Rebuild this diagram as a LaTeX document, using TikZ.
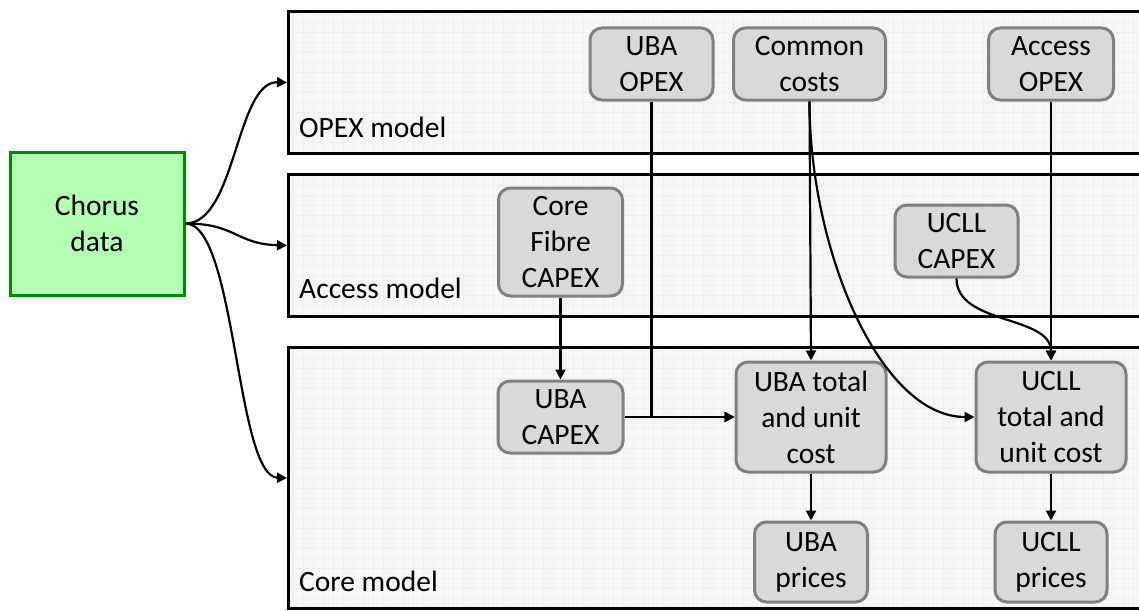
\documentclass[tikz,border=0pt]{standalone}
\usepackage{fontspec}
\setmainfont{Carlito}
\usetikzlibrary{arrows.meta}
\definecolor{chorusfill}{HTML}{B3FFB3}
\definecolor{chorusdraw}{HTML}{008A00}
\definecolor{boxfill}{HTML}{D9D9D9}
\definecolor{boxdraw}{HTML}{808080}
\definecolor{modelfill}{HTML}{F6F6F6}
\definecolor{gridcol}{HTML}{EEEEEE}
\begin{document}
\begin{tikzpicture}[x=1pt,y=-1pt,
  font=\fontsize{29.5}{36}\selectfont,
  modelbox/.style={draw=black, line width=3pt, fill=modelfill, anchor=north west, inner sep=0pt,
    path picture={\draw[gridcol, line width=0.4pt] (path picture bounding box.south west) grid[step=10pt] (path picture bounding box.north east);}},
  modellabel/.style={anchor=base west, inner sep=0pt},
  ibox/.style={draw=boxdraw, fill=boxfill, line width=3pt, rounded corners=12pt, align=center, inner sep=0pt},
  chorusbox/.style={draw=chorusdraw, fill=chorusfill, line width=3pt, align=center, inner sep=0pt},
  conn/.style={draw=black, line width=2.2pt, -{Triangle[length=10pt,width=10pt]}}
]
\useasboundingbox (0,0) rectangle (1139,610);

% model boxes
\node[modelbox, minimum width=870, minimum height=142] (opex) at (287,10) {};
\node[modelbox, minimum width=870, minimum height=142] (access) at (287,173) {};
\node[modelbox, minimum width=870, minimum height=261] (core) at (287,346) {};

\node[modellabel] (opexlab) at (299,137) {OPEX model};
\node[modellabel] (accesslab) at (299,298) {Access model};
\node[modellabel] (corelab) at (299,591) {Core model};

% source
\node[chorusbox, minimum width=174, minimum height=143] (chorus) at (97,223.5) {Chorus\\data};

% inner boxes
\node[ibox, minimum width=123, minimum height=72] (ubaopex) at (651.5,64) {UBA\\OPEX};
\node[ibox, minimum width=152, minimum height=72] (common) at (809.5,64) {Common\\costs};
\node[ibox, minimum width=125, minimum height=72] (accessopex) at (1051,64) {Access\\OPEX};
\node[ibox, minimum width=124, minimum height=108] (corefibre) at (560.5,242) {Core\\Fibre\\CAPEX};
\node[ibox, minimum width=123, minimum height=72] (ucllcapex) at (956.5,241) {UCLL\\CAPEX};
\node[ibox, minimum width=125, minimum height=72] (ubacapex) at (560.5,417) {UBA\\CAPEX};
\node[ibox, minimum width=150, minimum height=110] (ubatotal) at (811,417) {UBA total\\and unit\\cost};
\node[ibox, minimum width=150, minimum height=110] (uclltotal) at (1051,417) {UCLL\\total and\\unit cost};
\node[ibox, minimum width=113, minimum height=80] (ubaprices) at (811,562) {UBA\\prices};
\node[ibox, minimum width=112, minimum height=80] (ucllprices) at (1051,562) {UCLL\\prices};

% connectors from Chorus
\draw[conn] (chorus.east) .. controls (236,223.5) and (236,81) .. (opex.west);
\draw[conn] (chorus.east) .. controls (236,223.5) and (236,244) .. (access.west);
\draw[conn] (chorus.east) .. controls (236,223.5) and (236,476.5) .. (core.west);

% internal connectors
\draw[conn] (ubaopex.south) |- (ubatotal.west);
\draw[conn] (ubacapex.east) -- (ubatotal.west);
\draw[conn] (common.south) -- (ubatotal.north);
\draw[conn] (common.south) .. controls (809.5,250) and (880,417) .. (uclltotal.west);
\draw[conn] (accessopex.south) -- (uclltotal.north);
\draw[conn] (ucllcapex.south) .. controls (956.5,325) and (1051,315) .. (uclltotal.north);
\draw[conn] (corefibre.south) -- (ubacapex.north);
\draw[conn] (ubatotal.south) -- (ubaprices.north);
\draw[conn] (uclltotal.south) -- (ucllprices.north);
\end{tikzpicture}
\end{document}
